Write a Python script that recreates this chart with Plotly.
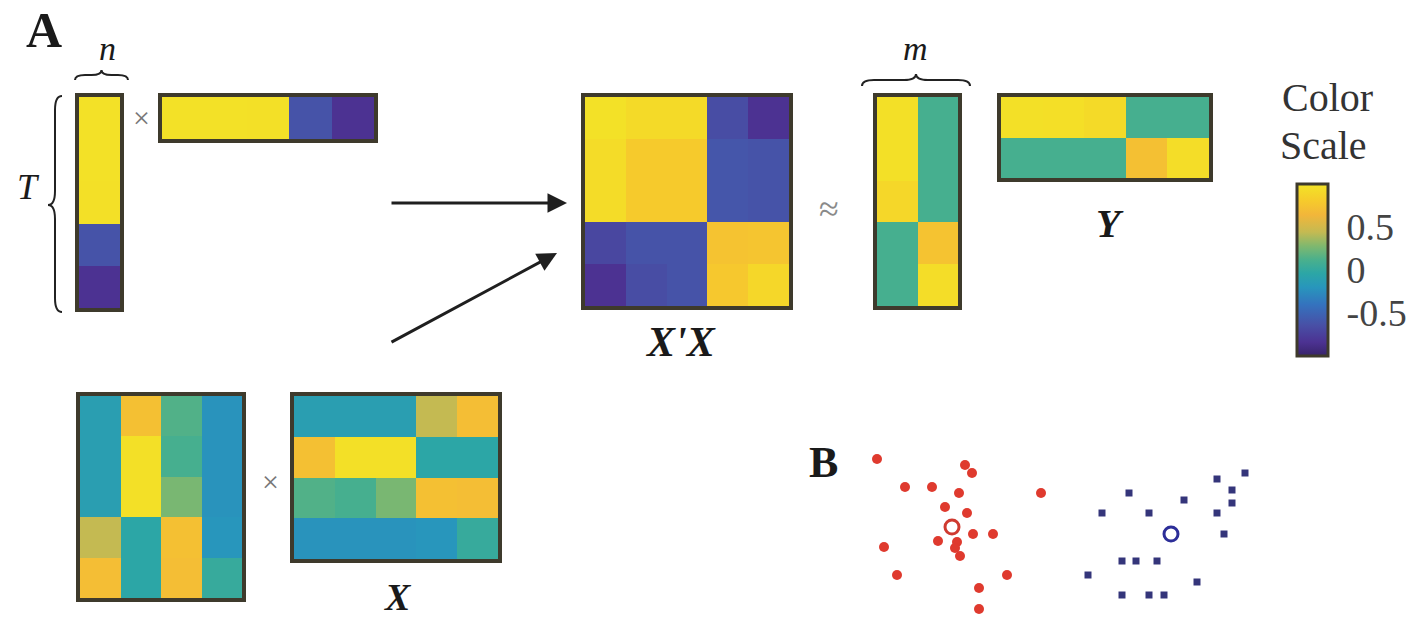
import plotly.graph_objects as go

W, H = 1420, 622

# ---------------- data ----------------
u = [0.98, 0.98, 0.97, -0.62, -0.84]          # T-vector (column) and its transpose (row)

XtX = [[0.98, 0.92, 0.92, -0.66, -0.84],
       [0.94, 0.80, 0.80, -0.60, -0.62],
       [0.94, 0.80, 0.80, -0.60, -0.62],
       [-0.70, -0.62, -0.62, 0.74, 0.76],
       [-0.84, -0.66, -0.62, 0.78, 0.90]]

M = [[0.97, 0.10],
     [0.97, 0.10],
     [0.90, 0.10],
     [0.10, 0.74],
     [0.10, 0.95]]

Y = [[0.97, 0.96, 0.92, 0.10, 0.10],
     [0.10, 0.10, 0.10, 0.72, 0.95]]

X = [[-0.12, 0.72, 0.14, -0.22],
     [-0.12, 0.97, 0.10, -0.22],
     [-0.12, 0.97, 0.26, -0.22],
     [0.44, -0.04, 0.72, -0.20],
     [0.70, -0.04, 0.70, 0.02]]
Xt = [list(r) for r in zip(*X)]

red_x = [27, 115, 122, 55, 82, 109, 191, 95, 117, 123, 143, 88, 107, 105, 110, 34, 47, 157, 129, 129]
red_y = [163, 157, 149, 135, 135, 129, 129, 115, 109, 88, 88, 81, 80, 74, 66, 75, 47, 47, 34, 13]
red_c = (102, 95)
blue_x = [395, 367, 279, 334, 382, 382, 252, 299, 367, 374, 272, 286, 307, 238, 347, 272, 299, 314]
blue_y = [149, 143, 129, 122, 132, 119, 109, 109, 109, 88, 61, 61, 61, 47, 40, 27, 27, 27]
blue_c = (321, 88)

cb_ticks = [-0.5, 0, 0.5]
cb_labels = ["-0.5", "0", "0.5"]

# ---------------- style ----------------
colorscale = [
    [0.00, "rgb(55,35,105)"],
    [0.08, "rgb(76,50,146)"],
    [0.18, "rgb(72,80,166)"],
    [0.30, "rgb(52,115,190)"],
    [0.40, "rgb(40,150,188)"],
    [0.48, "rgb(44,166,166)"],
    [0.56, "rgb(74,176,140)"],
    [0.64, "rgb(128,184,110)"],
    [0.72, "rgb(196,186,82)"],
    [0.82, "rgb(242,182,58)"],
    [0.90, "rgb(246,202,44)"],
    [1.00, "rgb(243,228,38)"],
]

FRAME = "#3e3a2c"
SERIF = "Liberation Serif"
LW = 4

def px(x):
    return x / W

def py(y):
    return 1 - y / H

fig = go.Figure()

# matrix panels: (z, x0, x1, y0, y1) outer pixel boxes (frame included)
panels = [
    ([[v] for v in u], 75, 124, 93, 312),
    ([u], 158, 378, 93, 143),
    (XtX, 581, 793, 93, 310),
    (M, 873, 962, 93, 310),
    (Y, 997, 1213, 93, 182),
    (X, 76, 246, 392, 602),
    (Xt, 290, 502, 392, 563),
]

layout_axes = {}
for i, (z, x0, x1, y0, y1) in enumerate(panels, start=1):
    xa = "x" if i == 1 else "x%d" % i
    ya = "y" if i == 1 else "y%d" % i
    fig.add_trace(go.Heatmap(z=z, coloraxis="coloraxis", xaxis=xa, yaxis=ya,
                             hoverinfo="skip"))
    nr, nc = len(z), len(z[0])
    common = dict(showticklabels=False, showgrid=False, zeroline=False, ticks="",
                  showline=True, mirror=True, linecolor=FRAME, linewidth=LW)
    layout_axes["xaxis" if i == 1 else "xaxis%d" % i] = dict(
        domain=[px(x0 + LW), px(x1 - LW)], range=[-0.5, nc - 0.5], anchor=ya, **common)
    layout_axes["yaxis" if i == 1 else "yaxis%d" % i] = dict(
        domain=[py(y1 - LW), py(y0 + LW)], range=[nr - 0.5, -0.5], anchor=xa, **common)

# scatter panel B
k = len(panels) + 1
xs, ys = "x%d" % k, "y%d" % k
fig.add_trace(go.Scatter(x=red_x, y=red_y, mode="markers", xaxis=xs, yaxis=ys,
                         marker=dict(symbol="circle", size=10, color="#df3a2e"),
                         hoverinfo="skip"))
fig.add_trace(go.Scatter(x=[red_c[0]], y=[red_c[1]], mode="markers", xaxis=xs, yaxis=ys,
                         marker=dict(symbol="circle-open", size=14, color="#cf3a30",
                                     line=dict(width=3)), hoverinfo="skip"))
fig.add_trace(go.Scatter(x=blue_x, y=blue_y, mode="markers", xaxis=xs, yaxis=ys,
                         marker=dict(symbol="square", size=7, color="#34357a"),
                         hoverinfo="skip"))
fig.add_trace(go.Scatter(x=[blue_c[0]], y=[blue_c[1]], mode="markers", xaxis=xs, yaxis=ys,
                         marker=dict(symbol="circle-open", size=14, color="#2c2e98",
                                     line=dict(width=3)), hoverinfo="skip"))
hidden = dict(visible=False, showgrid=False, zeroline=False)
layout_axes["xaxis%d" % k] = dict(domain=[px(850), px(1270)], range=[0, 420], anchor=ys, **hidden)
layout_axes["yaxis%d" % k] = dict(domain=[py(622), py(442)], range=[0, 180], anchor=xs, **hidden)

# ---------------- annotations ----------------
ann = []

def text(t, x, y, size, color="#1a1a1a"):
    ann.append(dict(text=t, x=px(x), y=py(y), xref="paper", yref="paper",
                    showarrow=False, xanchor="center", yanchor="middle",
                    font=dict(family=SERIF, size=size, color=color)))

text("<b>A</b>", 44, 30, 50)
text("<i>n</i>", 107, 49, 34)
text("<i>T</i>", 28, 187, 36)
text("×", 141, 117, 30, "#777777")
text("≈", 829, 209, 36, "#8a8a8a")
text("<b><i>X'X</i></b>", 680, 342, 42)
text("<i>m</i>", 915, 48, 34)
text("<b><i>Y</i></b>", 1110, 223, 40)
text("×", 270, 481, 30, "#777777")
text("<b><i>X</i></b>", 398, 597, 38)
text("<b>B</b>", 823, 462, 44)
text("Color", 1327, 97, 40, "#333333")
text("Scale", 1323, 145, 40, "#333333")

def arrow(tx, ty, sx, sy):
    ann.append(dict(x=px(tx), y=py(ty), xref="paper", yref="paper", text="",
                    showarrow=True, ax=sx - tx, ay=sy - ty, axref="pixel", ayref="pixel",
                    arrowhead=2, arrowsize=1.3, arrowwidth=3, arrowcolor="#1f1f1f"))

arrow(567, 203, 390, 203)
arrow(557, 253, 390, 343)

# ---------------- braces ----------------
def P(x, y):
    return "%.5f,%.5f" % (px(x), py(y))

def brace_h(x0, x1, y, h):
    xm = (x0 + x1) / 2
    r = min(h, (x1 - x0) / 4)
    ym = y - h / 2
    yt = y - h
    return ("M" + P(x0, y) + " Q" + P(x0, ym) + " " + P(x0 + r, ym) +
            " L" + P(xm - r, ym) + " Q" + P(xm, ym) + " " + P(xm, yt) +
            " Q" + P(xm, ym) + " " + P(xm + r, ym) +
            " L" + P(x1 - r, ym) + " Q" + P(x1, ym) + " " + P(x1, y))

def brace_v(x, y0, y1, w, ymid=None):
    ym_ = (y0 + y1) / 2 if ymid is None else ymid
    r = min(w, (y1 - y0) / 4)
    xm = x - w / 2
    xt = x - w
    return ("M" + P(x, y0) + " Q" + P(xm, y0) + " " + P(xm, y0 + r) +
            " L" + P(xm, ym_ - r) + " Q" + P(xm, ym_) + " " + P(xt, ym_) +
            " Q" + P(xm, ym_) + " " + P(xm, ym_ + r) +
            " L" + P(xm, y1 - r) + " Q" + P(xm, y1) + " " + P(x, y1))

shapes = [
    dict(type="path", path=brace_h(75, 128, 80, 10), xref="paper", yref="paper",
         line=dict(color="#222222", width=2)),
    dict(type="path", path=brace_h(862, 970, 86, 12), xref="paper", yref="paper",
         line=dict(color="#222222", width=2)),
    dict(type="path", path=brace_v(62, 96, 312, 14, 205), xref="paper", yref="paper",
         line=dict(color="#222222", width=2)),
]

fig.update_layout(
    width=W, height=H, margin=dict(l=0, r=0, t=0, b=0),
    paper_bgcolor="white", plot_bgcolor="white", showlegend=False,
    coloraxis=dict(
        colorscale=colorscale, cmin=-1, cmax=1,
        colorbar=dict(
            x=px(1297), xanchor="left", xpad=0, ypad=0,
            y=py(270), yanchor="middle",
            thickness=31, thicknessmode="pixels",
            len=172, lenmode="pixels",
            outlinewidth=3, outlinecolor=FRAME,
            tickvals=cb_ticks, ticktext=cb_labels,
            ticks="outside", ticklen=10, tickcolor="rgba(0,0,0,0)",
            tickfont=dict(family=SERIF, size=38, color="#444444"),
        ),
    ),
    annotations=ann, shapes=shapes,
    **layout_axes,
)

fig.write_html("out.html", config={"displayModeBar": False},
               post_script="document.body.style.margin='0px';")
